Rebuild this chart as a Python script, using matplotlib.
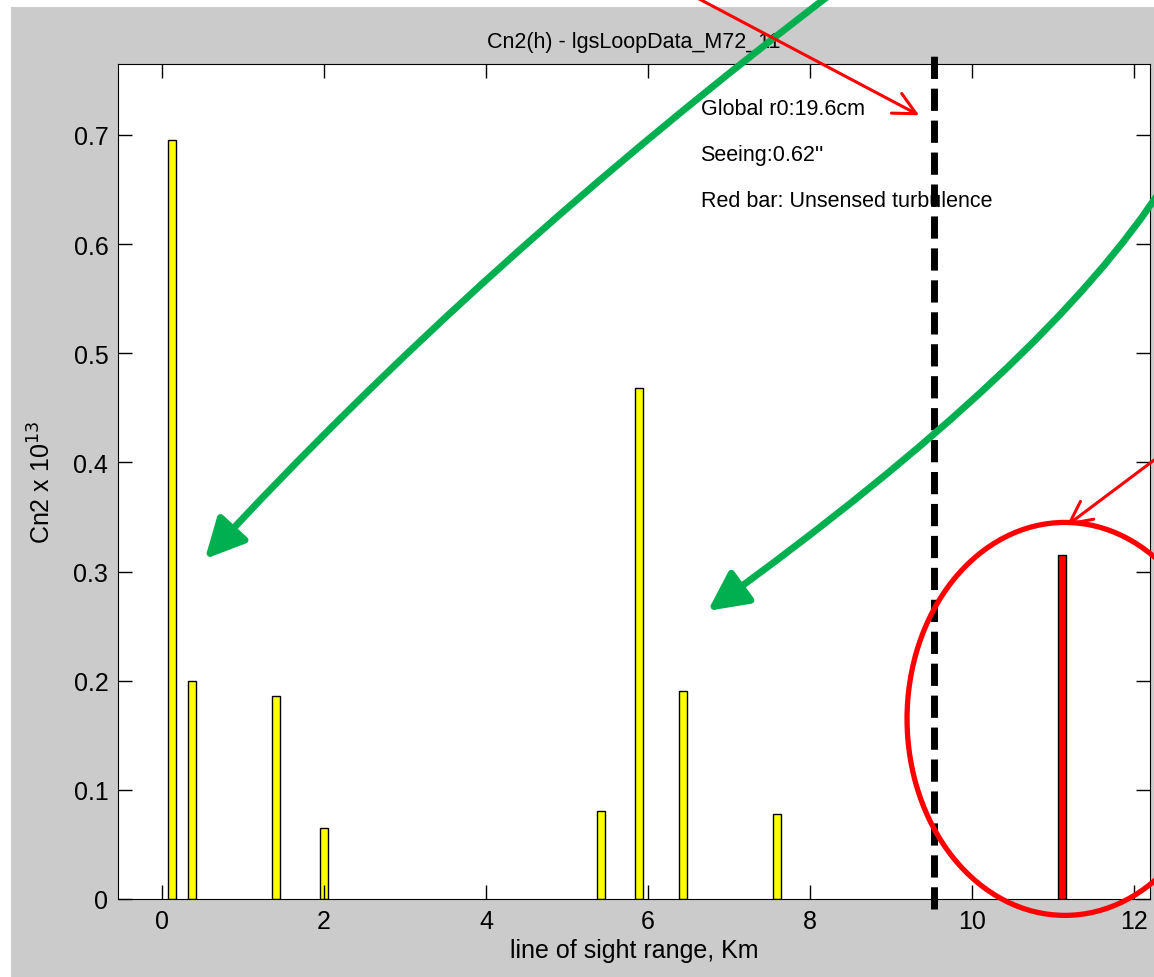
import matplotlib
matplotlib.use('Agg')
import matplotlib.pyplot as plt
from matplotlib.patches import Rectangle, Ellipse, FancyArrowPatch
from matplotlib.path import Path

plt.rcParams['font.family'] = ['Liberation Sans', 'DejaVu Sans']

# sensed layers (km, Cn2 x 1e13)
ranges = [0.12, 0.37, 1.41, 2.0, 5.42, 5.89, 6.43, 7.59]
cn2 = [0.695, 0.200, 0.186, 0.065, 0.081, 0.468, 0.191, 0.078]
# unsensed turbulence
red_range = [11.11]
red_cn2 = [0.315]

title = 'Cn2(h) - lgsLoopData_M72_11'
notes = ['Global r0:19.6cm', 'Seeing:0.62\'\'', 'Red bar: Unsensed turbulence']
cutoff = 9.53

fig = plt.figure(figsize=(11.54, 9.78), dpi=100, facecolor='white')
fig.add_artist(Rectangle((11 / 1154, 0), 1, 1 - 8 / 978, transform=fig.transFigure,
                         facecolor='#cbcbcb', edgecolor='none', zorder=-1))
ax = fig.add_axes([118 / 1154, 78 / 978, 1032 / 1154, 835 / 978])

ax.bar(ranges, cn2, width=0.1, color='yellow', edgecolor='black', linewidth=1)
ax.bar(red_range, red_cn2, width=0.1, color='red', edgecolor='black', linewidth=1)

ax.set_xlim(-0.543, 12.2)
ax.set_ylim(0, 0.765)
ax.set_xticks([0, 2, 4, 6, 8, 10, 12])
ax.set_yticks([0, 0.1, 0.2, 0.3, 0.4, 0.5, 0.6, 0.7])
ax.set_yticklabels(['0', '0.1', '0.2', '0.3', '0.4', '0.5', '0.6', '0.7'])
ax.tick_params(direction='in', length=10, width=1, top=True, right=True,
               labelsize=18, pad=7)
ax.set_title(title, fontsize=15.5, pad=12)
ax.set_xlabel('line of sight range, Km', fontsize=18, labelpad=4)
ax.set_ylabel('Cn2 x 10$^{13}$', fontsize=18, labelpad=13)

for i, t in enumerate(notes):
    ax.text(6.65, 0.724 - 0.042 * i, t, fontsize=15.5, va='center', ha='left')

# dashed cutoff
ax.plot([cutoff, cutoff], [-0.0092, 0.775], color='black', lw=5,
        dashes=(3.2, 1.4), solid_capstyle='butt', dash_capstyle='butt',
        clip_on=False, zorder=5)

# red ellipse around unsensed bar
ax.add_patch(Ellipse((11.15, 0.165), 3.9, 0.36, fill=False, edgecolor='red',
                     lw=3.8, clip_on=False, zorder=6))


def curved(p0, c, p1, color, lw, style):
    path = Path([p0, c, p1], [Path.MOVETO, Path.CURVE3, Path.CURVE3])
    a = FancyArrowPatch(path=path, arrowstyle=style, color=color, lw=lw,
                        mutation_scale=20, transform=ax.transData,
                        clip_on=False, zorder=7)
    ax.add_patch(a)


green = '#00b050'
curved((8.31, 0.832), (3.93, 0.585), (0.53, 0.3115), green, 5,
       '-|>,head_length=1.2,head_width=0.6')
curved((12.38, 0.655), (10.96, 0.490), (6.74, 0.264), green, 5,
       '-|>,head_length=1.2,head_width=0.6')

for p0, p1 in [((6.52, 0.829), (9.35, 0.718)), ((12.32, 0.406), (11.17, 0.342))]:
    ax.add_patch(FancyArrowPatch(p0, p1, arrowstyle='->,head_length=0.8,head_width=0.4',
                                 color='red', lw=2.2, mutation_scale=20,
                                 shrinkA=0, shrinkB=0, clip_on=False, zorder=7))

fig.savefig('out.png', dpi=100, facecolor=fig.get_facecolor())
